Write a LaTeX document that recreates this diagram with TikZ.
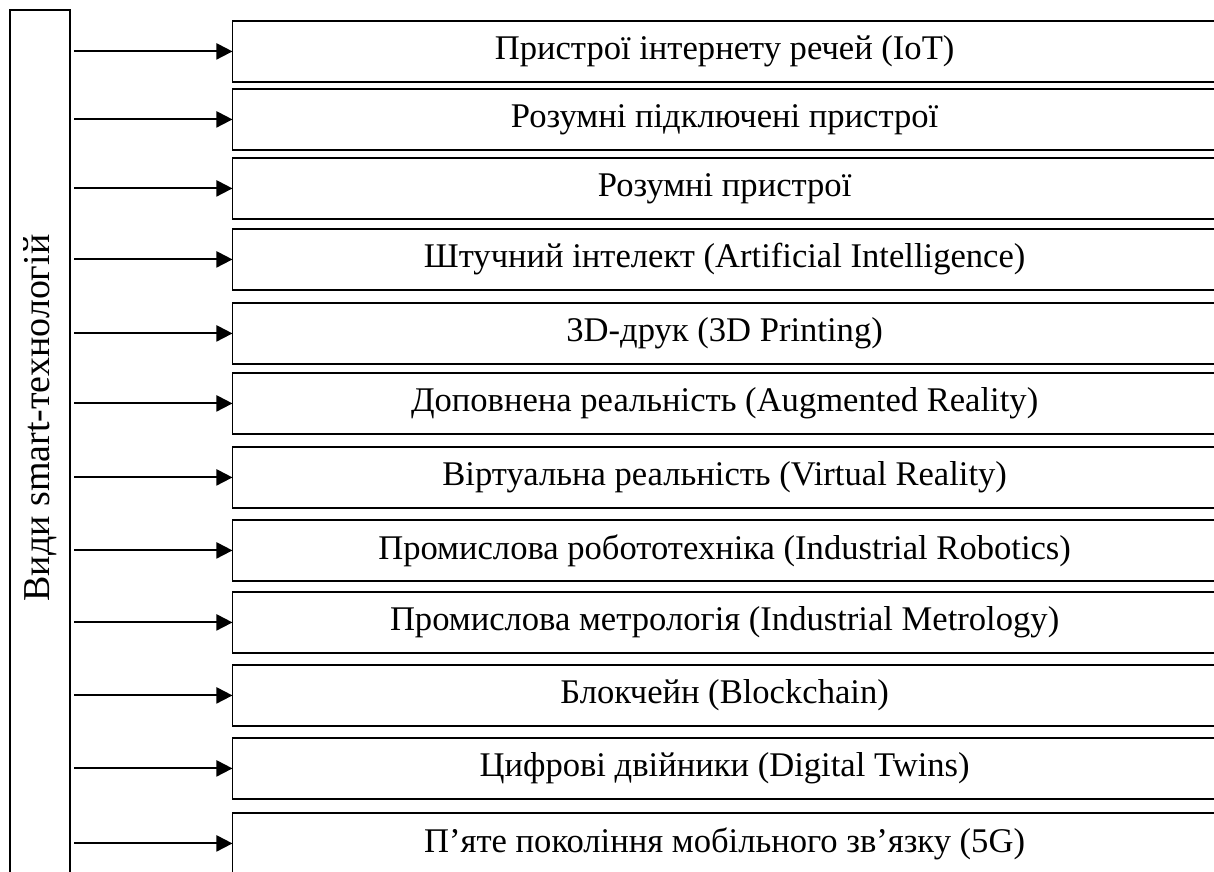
\documentclass[tikz,border=0pt]{standalone}
\usepackage{fontspec}
\setmainfont{Liberation Serif}
\usetikzlibrary{arrows.meta,positioning}

\begin{document}
\begin{tikzpicture}[x=0.025cm, y=-0.025cm]
    \tikzstyle{item}=[rectangle, draw=black, line width=1.4pt, minimum width=24.6cm, minimum height=1.52cm, anchor=north west, inner sep=0pt, outer sep=0pt, font=\fontsize{24.6}{28}\selectfont]
    \tikzstyle{side}=[rectangle, draw=black, line width=1.4pt, minimum width=1.5cm, minimum height=22.5cm, anchor=north west, inner sep=0pt, outer sep=0pt]
    \tikzstyle{connect}=[-{Triangle[length=0.4cm, width=0.4cm]}, line width=1.4pt]
    \clip (0,0) rectangle (1214,871);
      \node[side] (types) at (10,10) {};
      \node[rotate=90, font=\fontsize{27}{31}\selectfont] (title) at (40,418) {Види smart-технологій};
      \foreach \yy/\txt [count=\i] in {
          21/{Пристрої інтернету речей (IoT)},
          89/{Розумні підключені пристрої},
          158/{Розумні пристрої},
          229/{Штучний інтелект (Artificial Intelligence)},
          303/{3D-друк (3D Printing)},
          373/{Доповнена реальність (Augmented Reality)},
          447/{Віртуальна реальність (Virtual Reality)},
          520/{Промислова робототехніка (Industrial Robotics)},
          592/{Промислова метрологія (Industrial Metrology)},
          665/{Блокчейн (Blockchain)},
          738/{Цифрові двійники (Digital Twins)},
          813/{П’яте покоління мобільного зв’язку (5G)}}
      {
        \node[item] (b\i) at (232.5,\yy) {\txt};
        \draw[connect] ([xshift=0.1cm]types.east |- b\i.west) -- (b\i.west);
      }
\end{tikzpicture}
\end{document}
